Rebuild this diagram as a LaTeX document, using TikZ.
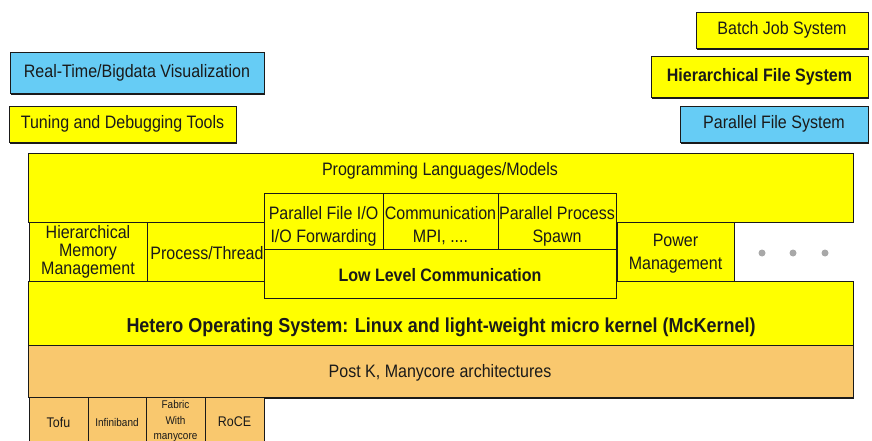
\documentclass[tikz,border=0pt]{standalone}
\usepackage{fontspec}
% narrow, tall sans glyphs
\setmainfont[FakeStretch=0.89]{Liberation Sans}
\usetikzlibrary{shadows}
\definecolor{boxyellow}{HTML}{FFFF00}
\definecolor{boxblue}{HTML}{66CCF5}
\definecolor{boxorange}{HTML}{F9C86E}
\definecolor{dotgray}{HTML}{A8A8A8}
\definecolor{ink}{HTML}{1A1A1A}
\tikzset{
  layer/.style={draw=ink, line width=0.9pt, inner sep=0pt, outer sep=0pt,
    text=ink, align=center, font=\fontsize{18}{18}\selectfont},
  ybox/.style={layer, fill=boxyellow},
  bbox/.style={layer, fill=boxblue},
  obox/.style={layer, fill=boxorange},
  shadowed/.style={drop shadow={shadow xshift=0.8pt, shadow yshift=-1.6pt, opacity=1, fill=ink}},
  lbl/.style={inner sep=0pt, text=ink, align=center, font=\fontsize{18}{18}\selectfont},
  wide/.style={font=\fontsize{18}{23}\selectfont},
  tiny/.style={font=\fontsize{11.2}{15.5}\selectfont},
  small/.style={font=\fontsize{14}{15}\selectfont},
  boldtxt/.style={font=\fontsize{18}{18}\selectfont\bfseries},
  bigbold/.style={font=\fontsize{20.2}{20}\selectfont\bfseries},
  dot/.style={circle, fill=dotgray, inner sep=0pt, minimum size=7pt}
}
% rectangle node from corner (x1,y1) to (x2,y2), y grows downward
\newcommand{\blk}[7]{%
  \node[#1, minimum width={(#4-#2)*1pt}, minimum height={(#5-#3)*1pt}]
    (#6) at ({(#2+#4)/2},{(#3+#5)/2}) {#7};}
\begin{document}
\begin{tikzpicture}[x=1pt, y=-1pt]
\useasboundingbox (0,0) rectangle (872,441);

% tools and file systems
\blk{bbox,shadowed}{10}{52}{264}{93}{viz}{Real-Time/Bigdata Visualization}
\blk{ybox,shadowed}{9}{106}{236}{142}{tune}{Tuning and Debugging Tools}
\blk{ybox,shadowed}{696}{12}{868}{48}{batch}{Batch Job System}
\blk{ybox,shadowed,boldtxt}{651}{56}{868}{97}{hfs}{Hierarchical File System}
\blk{bbox,shadowed}{680}{106}{868}{142}{pfs}{Parallel File System}

% software stack
\blk{ybox}{28}{153}{853}{222}{prog}{}
\node[lbl] (progtxt) at (440,171) {Programming Languages/Models};
\blk{ybox}{28}{281}{853}{345}{os}{}
\node[lbl, bigbold] (ostxt) at (441,327) {Hetero Operating System: Linux and light-weight micro kernel (McKernel)};
\blk{obox,shadowed}{28}{345}{853}{397}{postk}{}
\node[lbl] (postktxt) at (440,373) {Post K, Manycore architectures};

\blk{ybox}{29}{222}{147}{281}{hmm}{Hierarchical\\Memory\\Management}
\blk{ybox}{147}{222}{264}{281}{proc}{}
\node[lbl] (proctxt) at (207,253) {Process/Thread};
\blk{ybox}{617}{222}{734}{281}{power}{}
\node[lbl, wide] (powertxt) at (675.5,254) {Power\\Management};

\blk{ybox}{264}{193}{383}{249}{pfio}{}
\node[lbl, wide] (pfiotxt) at (323.5,226) {Parallel File I/O\\I/O Forwarding};
\blk{ybox}{383}{193}{498}{249}{comm}{}
\node[lbl, wide] (commtxt) at (440.5,226) {Communication\\MPI, ....};
\blk{ybox}{498}{193}{616}{249}{spawn}{}
\node[lbl, wide] (spawntxt) at (557,226) {Parallel Process\\Spawn};
\blk{ybox}{264}{249}{616}{298}{llc}{}
\node[lbl, boldtxt] (llctxt) at (440,275) {Low Level Communication};

% interconnects
\blk{obox}{29}{397}{88}{450}{tofu}{}
\node[lbl, small] (tofutxt) at (58.5,422) {Tofu};
\blk{obox}{88}{397}{146}{450}{ib}{}
\node[lbl, tiny] (ibtxt) at (117,422) {Infiniband};
\blk{obox}{146}{397}{205}{450}{fab}{}
\node[lbl, tiny] (fabtxt) at (175.5,421.5) {Fabric\\With\\manycore};
\blk{obox}{205}{397}{264}{450}{roce}{}
\node[lbl, small] (rocetxt) at (234.5,422) {RoCE};

% continuation marks
\node[dot] (d1) at (762,253) {};
\node[dot] (d2) at (793,253) {};
\node[dot] (d3) at (825,253) {};
\end{tikzpicture}
\end{document}
